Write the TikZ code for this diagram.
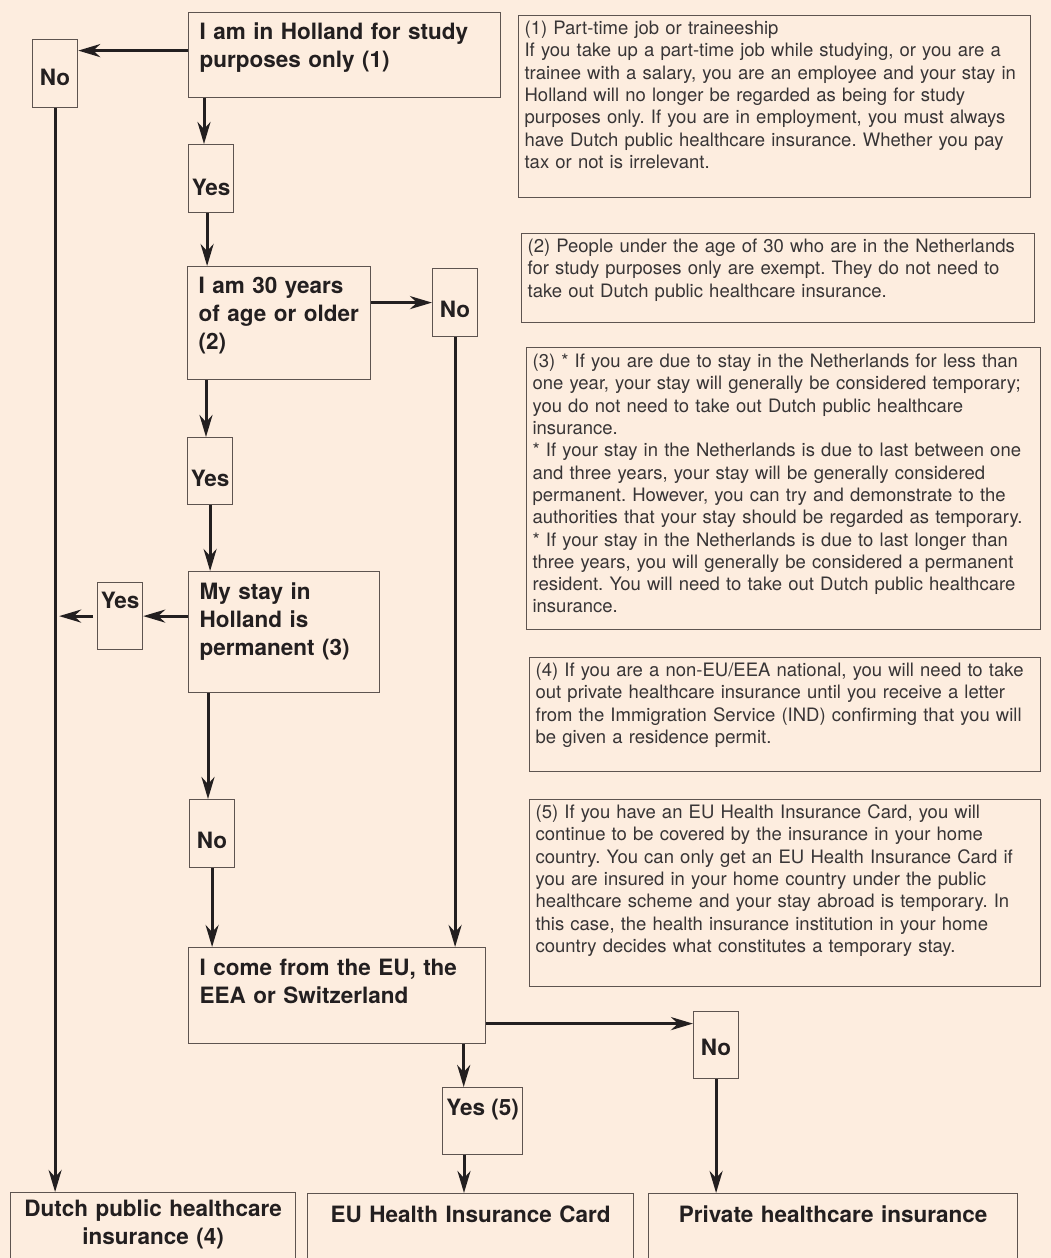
\documentclass[tikz,border=0pt]{standalone}
\usepackage{fontspec}
\setmainfont{TeX Gyre Heros}
\usepackage{xcolor}
\usepackage{tikz}
\usetikzlibrary{arrows.meta,calc,positioning}
\definecolor{hpeach}{HTML}{FDEDDF}
\definecolor{hink}{HTML}{231F20}
\definecolor{hedge}{HTML}{5E5450}
\definecolor{hnotetxt}{HTML}{383536}
\tikzset{
  >={Stealth[length=22pt, width=13pt, inset=7pt]},
  hflow/.style={->, draw=hink, line width=3pt},
  hbox/.style={draw=hedge, line width=1.2pt, anchor=north west, inner ysep=0pt,
               inner xsep=11pt, align=left, text=hink,
               font=\fontsize{22.5}{28}\selectfont\bfseries},
  hans/.style={draw=hedge, line width=1.2pt, anchor=north west, inner sep=0pt,
               text=hink, font=\fontsize{22.5}{28}\selectfont\bfseries},
  hend/.style={draw=hedge, line width=1.2pt, anchor=north west, inner ysep=0pt,
               inner xsep=4pt, align=center, text=hink,
               font=\fontsize{22.5}{28}\selectfont\bfseries},
  hnote/.style={draw=hedge, line width=1.2pt, anchor=north west, inner ysep=0pt,
                inner xsep=6pt, align=left, text=hnotetxt,
                font=\fontsize{18.5}{22.3}\selectfont},
}

\begin{document}
\frenchspacing
\begin{tikzpicture}[x=1pt,y=-1pt]

  % fundo
  \useasboundingbox (0,0) rectangle (1051,1258);
  \clip (0,0) rectangle (1051,1258);
  \fill[hpeach] (0,0) rectangle (1051,1258);

  % perguntas
  \node[hbox, text width=290pt, text height=27pt, text depth=58pt] (study) at (188,12)
    {I am in Holland for study\\purposes only (1)};
  \node[hbox, text width=161pt, text height=27pt, text depth=86pt] (age) at (187,266)
    {I am 30 years\\of age or older\\(2)};
  \node[hbox, text width=169pt, text height=28pt, text depth=93pt] (stay) at (188,571)
    {My stay in\\Holland is\\permanent (3)};
  \node[hbox, text width=275pt, text height=28pt, text depth=68pt] (eea) at (188,947)
    {I come from the EU, the\\EEA or Switzerland};

  % respostas
  \node[hans, minimum width=45pt, text height=46pt, text depth=22pt] (nostudy) at (32,39) {No};
  \node[hans, minimum width=45pt, text height=51pt, text depth=17pt] (yesstudy) at (188,144) {Yes};
  \node[hans, minimum width=45pt, text height=49pt, text depth=19pt] (noage) at (432,268) {No};
  \node[hans, minimum width=45pt, text height=49pt, text depth=18pt] (yesage) at (187,437) {Yes};
  \node[hans, minimum width=45pt, text height=26pt, text depth=41pt] (yesstay) at (97,582) {Yes};
  \node[hans, minimum width=45pt, text height=49pt, text depth=19pt] (nostay) at (189,799) {No};
  \node[hans, minimum width=45pt, text height=44pt, text depth=23pt] (noeea) at (693,1011) {No};
  \node[hans, minimum width=80pt, text height=28pt, text depth=39pt] (yeseea) at (442,1087) {Yes (5)};

  % resultados
  \node[hend, text width=277pt, text height=24pt, text depth=80pt] (dutch) at (10,1192)
    {Dutch public healthcare\\insurance (4)};
  \node[hend, text width=318pt, text height=29pt, text depth=80pt] (eucard) at (307,1193)
    {EU Health Insurance Card};
  \node[hend, text width=361pt, text height=29pt, text depth=80pt] (private) at (648,1193)
    {Private healthcare insurance};

  % notas
  \node[hnote, text width=500pt, text height=19pt, text depth=163pt] (noteA) at (518,15)
    {(1) Part-time job or traineeship\\
     If you take up a part-time job while studying, or you are a\\
     trainee with a salary, you are an employee and your stay in\\
     Holland will no longer be regarded as being for study\\
     purposes only. If you are in employment, you must always\\
     have Dutch public healthcare insurance. Whether you pay\\
     tax or not is irrelevant.};
  \node[hnote, text width=501pt, text height=19pt, text depth=70pt] (noteB) at (521,233)
    {(2) People under the age of 30 who are in the Netherlands\\
     for study purposes only are exempt. They do not need to\\
     take out Dutch public healthcare insurance.};
  \node[hnote, text width=502pt, text height=20pt, text depth=262pt] (noteC) at (526,347)
    {(3) * If you are due to stay in the Netherlands for less than\\
     one year, your stay will generally be considered temporary;\\
     you do not need to take out Dutch public healthcare\\
     insurance.\\{}%
     * If your stay in the Netherlands is due to last between one\\
     and three years, your stay will be generally considered\\
     permanent. However, you can try and demonstrate to the\\
     authorities that your stay should be regarded as temporary.\\{}%
     * If your stay in the Netherlands is due to last longer than\\
     three years, you will generally be considered a permanent\\
     resident. You will need to take out Dutch public healthcare\\
     insurance.};
  \node[hnote, text width=499pt, text height=19pt, text depth=95pt] (noteD) at (529,657)
    {(4) If you are a non-EU/EEA national, you will need to take\\
     out private healthcare insurance until you receive a letter\\
     from the Immigration Service (IND) confirming that you will\\
     be given a residence permit.};
  \node[hnote, text width=499pt, text height=19pt, text depth=168pt] (noteE) at (529,799)
    {(5) If you have an EU Health Insurance Card, you will\\
     continue to be covered by the insurance in your home\\
     country. You can only get an EU Health Insurance Card if\\
     you are insured in your home country under the public\\
     healthcare scheme and your stay abroad is temporary. In\\
     this case, the health insurance institution in your home\\
     country decides what constitutes a temporary stay.};

  % ligações
  \draw[hflow] ([yshift=4.5pt]study.west) coordinate (s1) -- (s1 -| nostudy.east);
  \draw[hflow] ([xshift=16pt]study.south west) coordinate (s2) -- (s2 |- yesstudy.north);
  \draw[hflow] ([xshift=-4pt]yesstudy.south) coordinate (s3) -- (s3 |- age.north);
  \draw[hflow] (nostudy.south) -- (nostudy.south |- dutch.north);
  \draw[hflow] (noage.west -| age.east) -- (noage.west);
  \draw[hflow] (noage.south) -- (noage.south |- eea.north);
  \draw[hflow] ([xshift=19pt]age.south west) coordinate (a1) -- (a1 |- yesage.north);
  \draw[hflow] (yesage.south) -- (yesage.south |- stay.north);
  \draw[hflow] (yesstay.east -| stay.west) -- (yesstay.east);
  \draw[hflow] ([xshift=-4pt]yesstay.west) -- ($(yesstay.west -| nostudy.south)+(4,0)$);
  \draw[hflow] ([xshift=20pt]stay.south west) coordinate (t1) -- (t1 |- nostay.north);
  \draw[hflow] (nostay.south) -- (nostay.south |- eea.north);
  \draw[hflow] ([yshift=-28pt]eea.east) coordinate (e1) -- (e1 -| noeea.west);
  \draw[hflow] ([xshift=-22.5pt]eea.south east) coordinate (e2) -- (e2 |- yeseea.north);
  \draw[hflow] ([xshift=22pt]yeseea.south west) coordinate (e3) -- (e3 |- eucard.north);
  \draw[hflow] (noeea.south) -- (noeea.south |- private.north);

\end{tikzpicture}
\end{document}
